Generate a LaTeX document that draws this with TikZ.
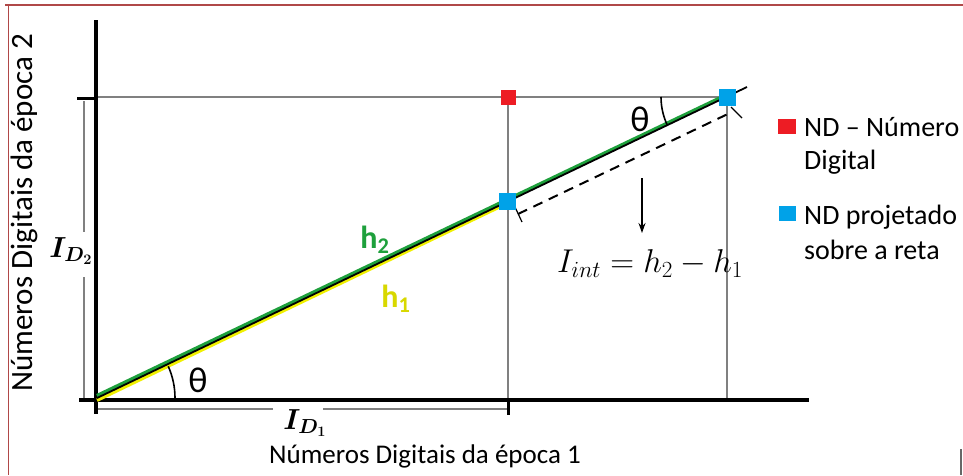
\RequirePackage{fix-cm}
\documentclass[tikz,border=0pt]{standalone}
\usepackage{amsmath}
\usepackage{fontspec}
\setmainfont{Carlito}
\usetikzlibrary{arrows.meta}
\definecolor{frame}{RGB}{176,72,72}
\definecolor{ndred}{RGB}{237,28,36}
\definecolor{ndblue}{RGB}{0,162,232}
\definecolor{hgreen}{RGB}{30,160,60}
\definecolor{hyellow}{RGB}{240,240,0}
\definecolor{guide}{RGB}{128,128,128}
\tikzset{
  axis/.style={line width=4pt, black},
  guideline/.style={line width=1.4pt, guide},
  dimline/.style={line width=1.2pt, guide},
  sq/.style={minimum size=15pt, inner sep=0pt, draw=none},
  lbl/.style={inner sep=0pt},
  legend/.style={font=\fontsize{28}{33}\selectfont, inner sep=0pt, anchor=base west}
}
\begin{document}
\begin{tikzpicture}[x=1pt,y=-1pt]
\useasboundingbox (0,0) rectangle (963,475);
\fill[white] (0,0) rectangle (963,475);
% frame
\draw[frame, line width=2pt] (5,5) -- (963,5);
\draw[frame, line width=1.2pt] (8.5,5) -- (8.5,475);
\draw[guide!80!black, line width=2pt] (961,449) -- (961,475);

\coordinate (O) at (97,398);
\coordinate (A) at (507,201);
\coordinate (B) at (727,97);
\coordinate (E) at (747,87);

% guide lines
\draw[guideline] (96,97) -- (B);
\draw[guideline] (508,97) -- (508,400);
\draw[guideline] (727,97) -- (727,400);

% dimension lines
\draw[dimline] (98,409) -- (273,409);
\draw[dimline] (323,409) -- (507,409);
\draw[dimline] (84,101) -- (84,232);
\draw[dimline] (84,277) -- (84,401);
\node[lbl, font=\fontsize{29}{32}\selectfont] (id1) at (305,423) {$\boldsymbol{I_{D_1}}$};
\node[lbl, font=\fontsize{29}{32}\selectfont] (id2) at (71,251) {$\boldsymbol{I_{D_2}}$};

% axes
\draw[axis] (96,20) -- (96,414);
\draw[axis] (79,400) -- (809,400);
\draw[line width=3pt] (508,400) -- (508,415);
\draw[line width=3pt] (77,98) -- (96,98);

% main line
\draw[hyellow, line width=3.5pt] ([yshift=-2.2pt]O) -- ([yshift=-2.2pt]A);
\draw[hgreen, line width=3.8pt] ([yshift=2.2pt]O) -- ([yshift=2.2pt]B);
\draw[black, line width=1.8pt] (O) -- (E);

% dashed line
\coordinate (D1) at (518,214);
\coordinate (D2) at (732,112);
\draw[line width=2pt, dash pattern=on 10pt off 7pt] (D1) -- (D2);
\draw[line width=1.2pt] (515,207) -- (522,222);
\draw[line width=1.2pt] (731,107) -- (742,118);

% arrow
\coordinate (R1) at (642,178);
\coordinate (R2) at (642,233);
\draw[line width=1.5pt, -{Stealth[length=10pt,width=7pt]}] (R1) -- (R2);
\node[lbl, font=\fontsize{33}{36}\selectfont] (iint) at (650,264) {$I_{int}=h_2-h_1$};

% angles
\draw[line width=1.6pt] ([shift={(0:78)}]O) arc[start angle=0, end angle=-24, radius=78];
\node[lbl, font=\fontsize{36}{40}\selectfont] (th1) at (198,380) {θ};
\draw[line width=1.6pt] ([shift={(180:66)}]B) arc[start angle=180, end angle=155, radius=66];
\node[lbl, font=\fontsize{36}{40}\selectfont] (th2) at (640,119) {θ};

% h labels
\node[lbl, font=\bfseries\fontsize{32}{36}\selectfont, text=hgreen] (h2) at (375,240) {h\textsubscript{2}};
\node[lbl, font=\bfseries\fontsize{32}{36}\selectfont, text=hyellow!90!black] (h1) at (396,299) {h\textsubscript{1}};

% squares
\node[sq, fill=ndred] (nd) at (508,97) {};
\node[sq, fill=ndblue, minimum size=17pt] (pA) at (A) {};
\node[sq, fill=ndblue, minimum size=17pt] (pB) at (B) {};

% legend
\node[sq, fill=ndred, minimum width=18pt, minimum height=15pt] (lg1) at (787,126) {};
\node[legend] (lt1a) at (804,136) {ND – Número};
\node[legend] (lt1b) at (804,169) {Digital};
\node[sq, fill=ndblue, minimum width=17pt, minimum height=15pt] (lg2) at (787,213) {};
\node[legend] (lt2a) at (804,224) {ND projetado};
\node[legend] (lt2b) at (804,259) {sobre a reta};

% axis labels
\node[lbl, font=\fontsize{27}{30}\selectfont] (xl) at (425,456) {Números Digitais da época 1};
\node[lbl, font=\fontsize{31}{34}\selectfont, rotate=90] (yl) at (24,213) {Números Digitais da época 2};
\end{tikzpicture}
\end{document}
